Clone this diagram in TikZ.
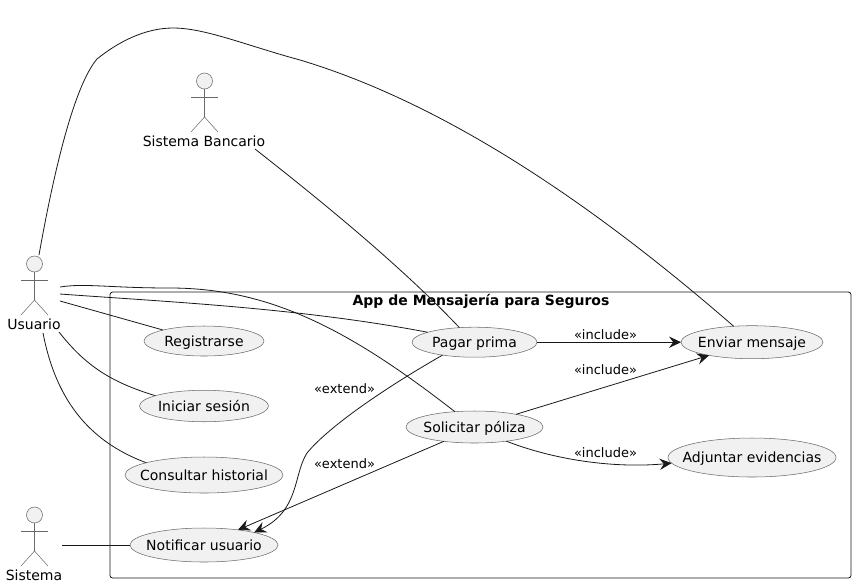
\documentclass[tikz,border=0pt]{standalone}
\usepackage{fontspec}
\setmainfont{DejaVu Sans}
\usetikzlibrary{shapes.geometric}
\usetikzlibrary{arrows.meta}
\definecolor{ucfill}{HTML}{F1F1F1}
\definecolor{ucline}{HTML}{181818}
\tikzset{
  usecase/.style={ellipse,draw=ucline!65,line width=.4pt,fill=ucfill,inner sep=0pt,outer sep=0pt,font=\fontsize{10.5}{12}\selectfont},
  actorline/.style={draw=ucline!65,line width=.4pt},
  actorname/.style={inner sep=0pt,font=\fontsize{10.5}{12}\selectfont},
  stereo/.style={inner sep=0pt,font=\fontsize{9.75}{12}\selectfont},
  link/.style={draw=ucline,line width=.6pt},
  dep/.style={link,-{Stealth[length=9pt,width=8.5pt,inset=3.2pt]}},
}
\newcommand{\actorfig}[2]{%
\fill[ucfill] (#1,#2) circle(6pt);
\draw[actorline] (#1,#2) circle(6pt);
\draw[actorline] (#1,#2+8)--(#1,#2+36);
\draw[actorline] (#1-13.5,#2+16)--(#1+13.5,#2+16);
\draw[actorline] (#1-13.5,#2+51)--(#1,#2+36)--(#1+13.5,#2+51);
}
\newcommand{\uclabel}[1]{\makebox[0pt]{\rule[-3.1pt]{0pt}{13.7pt}#1}}
\begin{document}
\begin{tikzpicture}[x=.75pt,y=-.75pt]
\useasboundingbox (0,0) rectangle (856,587);
\draw[ucline,line width=.6pt,rounded corners=2pt] (110,292) rectangle (851,578);
\node[font=\bfseries\fontsize{10.5}{12}\selectfont,inner sep=0pt] (titulo) at (481,301.7) {App de Mensajería para Seguros};
% actors
\actorfig{34.5}{264}
\actorfig{34.5}{515}
\actorfig{204.5}{81}
\node[actorname] (usuario) at (34,324) {Usuario};
\node[actorname] (sistema) at (34,575) {Sistema};
\node[actorname] (bancario) at (204,141) {Sistema Bancario};
\coordinate (usuTop) at (39,255);
\coordinate (usuA) at (60,287);
\coordinate (usuB) at (60,294);
\coordinate (usuC) at (60,301);
\coordinate (usuD) at (59,332);
\coordinate (usuE) at (43,333);
\coordinate (sisOut) at (62,545);
\coordinate (banOut) at (255,149);
% use cases
\node[usecase,minimum width=90pt,minimum height=22.5pt] (registrarse) at (204,341) {\uclabel{Registrarse}};
\node[usecase,minimum width=96.75pt,minimum height=23.6pt] (iniciar) at (204,406) {\uclabel{Iniciar sesión}};
\node[usecase,minimum width=118.5pt,minimum height=27pt] (consultar) at (204,475) {\uclabel{Consultar historial}};
\node[usecase,minimum width=111pt,minimum height=25.5pt] (notificar) at (204,545) {\uclabel{Notificar usuario}};
\node[usecase,minimum width=93.75pt,minimum height=22.5pt] (pagar) at (474.5,342.2) {\uclabel{Pagar prima}};
\node[usecase,minimum width=102.75pt,minimum height=24pt] (solicitar) at (474.5,427) {\uclabel{Solicitar póliza}};
\node[usecase,minimum width=106.5pt,minimum height=24.75pt] (enviar) at (752,342.2) {\uclabel{Enviar mensaje}};
\node[usecase,minimum width=126pt,minimum height=29.25pt] (adjuntar) at (752,457.5) {\uclabel{Adjuntar evidencias}};
% plain links
\draw[link] (usuTop) .. controls (55,165) and (75,85) .. (97,59) .. controls (118,42) and (145,28) .. (173,28) .. controls (205,28) and (245,45) .. (300,60) .. controls (450,105) and (600,210) .. (enviar.139);
\draw[link] (banOut) .. controls (320,200) and (400,265) .. (pagar.136);
\draw[link] (usuA) .. controls (85,283) and (110,288) .. (170,288) .. controls (270,288) and (350,330) .. (solicitar.142);
\draw[link] (usuB) .. controls (170,302) and (300,308) .. (pagar.168);
\draw[link] (usuC) -- (registrarse.165);
\draw[link] (usuD) .. controls (85,365) and (110,382) .. (iniciar.168);
\draw[link] (usuE) .. controls (55,395) and (85,440) .. (consultar.168.5);
\draw[link] (sisOut) -- (notificar.west);
% include and extend
\draw[dep] (pagar.east) -- (enviar.west);
\draw[dep] (solicitar.17) -- (enviar.197);
\draw[dep] (solicitar.-24) .. controls (560,462) and (620,468) .. (adjuntar.184);
\draw[dep] (pagar.202.4) .. controls (390,385) and (330,425) .. (307,453) .. controls (293,475) and (300,510) .. (notificar.14.6);
\draw[dep] (solicitar.205) -- (notificar.24);
\node[stereo] (incA) at (605.5,335) {«include»};
\node[stereo] (incB) at (605.5,370) {«include»};
\node[stereo] (incC) at (605.5,453) {«include»};
\node[stereo] (extA) at (344.5,389) {«extend»};
\node[stereo] (extB) at (344.5,464) {«extend»};
\end{tikzpicture}
\end{document}
